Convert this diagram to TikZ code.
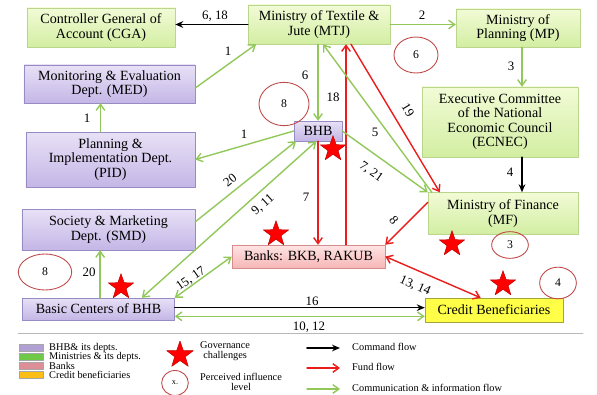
\documentclass[tikz,border=0pt]{standalone}
\usepackage{fontspec}
\setmainfont{Liberation Serif}
\usetikzlibrary{shapes.geometric, arrows.meta}
\definecolor{minfilltop}{RGB}{242,251,214}
\definecolor{minfillbot}{RGB}{210,238,162}
\definecolor{minline}{RGB}{185,214,140}
\definecolor{deptfilltop}{RGB}{232,225,246}
\definecolor{deptfillbot}{RGB}{196,182,230}
\definecolor{deptline}{RGB}{150,140,195}
\definecolor{bankfilltop}{RGB}{255,228,228}
\definecolor{bankfillbot}{RGB}{246,182,182}
\definecolor{bankline}{RGB}{215,140,140}
\definecolor{benfill}{RGB}{255,255,72}
\definecolor{benline}{RGB}{165,165,60}
\definecolor{infogreen}{RGB}{146,200,90}
\definecolor{fundred}{RGB}{235,28,28}
\definecolor{levelred}{RGB}{190,72,72}
\tikzset{>=latex}
\tikzset{every text node part/.style={align=center}}
\tikzset{box/.style={font=\fontsize{12}{12.3}\selectfont, inner sep=1pt}}
\tikzset{ministry/.style={box, draw=minline, top color=minfilltop, bottom color=minfillbot}}
\tikzset{dept/.style={box, draw=deptline, top color=deptfilltop, bottom color=deptfillbot}}
\tikzset{bank/.style={box, draw=bankline, top color=bankfilltop, bottom color=bankfillbot}}
\tikzset{benef/.style={box, draw=benline, fill=benfill}}
\tikzset{cmd/.style={black, line width=1.3pt, -{Stealth[length=2.4mm, width=2mm]}}}
\tikzset{fund/.style={fundred, line width=1.2pt, -{Straight Barb[length=1.8mm, width=2.6mm]}}}
\tikzset{fundboth/.style={fund, {Straight Barb[length=1.8mm, width=2.6mm]}-{Straight Barb[length=1.8mm, width=2.6mm]}}}
\tikzset{info/.style={infogreen, line width=1.2pt, -{Straight Barb[length=1.8mm, width=2.6mm]}}}
\tikzset{infoboth/.style={info, {Straight Barb[length=1.8mm, width=2.6mm]}-{Straight Barb[length=1.8mm, width=2.6mm]}}}
\tikzset{lbl/.style={font=\fontsize{11}{11}\selectfont, inner sep=0pt}}
\tikzset{legtext/.style={font=\fontsize{8.8}{8.8}\selectfont, anchor=west, inner sep=0pt}}
\tikzset{level/.style={ellipse, draw=levelred, line width=0.75pt, font=\fontsize{10}{10}\selectfont, inner sep=0pt}}
\tikzset{gov/.style={star, star points=5, star point ratio=2.5, fill=red, draw=red!75!black, inner sep=0pt, minimum size=0.8cm}}
\tikzset{swatch/.style={minimum width=0.72cm, minimum height=0.21cm, inner sep=0pt, draw=gray!70}}
\newcommand{\levelmark}[5]{%
	\node[level, minimum width=#3, minimum height=#4] (#1) at #2 {#5};
}

\begin{document}
\begin{tikzpicture}[x=0.03cm, y=-0.03cm, line cap=round, line join=round]
	\useasboundingbox (0,0) rectangle (597,394);
	
	% Ministries
	\node[ministry, minimum width=4.44cm, minimum height=1.17cm] (cga) at (101,27.5) {Controller General of\\Account (CGA)};
	\node[ministry, minimum width=4.26cm, minimum height=1.17cm] (mtj) at (319,24.5) {Ministry of Textile \&\\Jute (MTJ)};
	\node[ministry, minimum width=3.72cm, minimum height=1.14cm] (mp) at (518,28) {Ministry of\\Planning (MP)};
	\node[ministry, minimum width=4.68cm, minimum height=2.1cm] (ecnec) at (500,122) {Executive Committee\\of the National\\Economic Council\\(ECNEC)};
	\node[ministry, minimum width=4.5cm, minimum height=1.26cm] (mf) at (503,213.5) {Ministry of Finance\\(MF)};
	
	% BHB and its departments
	\node[dept, minimum width=5.13cm, minimum height=1.14cm] (med) at (109.5,84) {Monitoring \& Evaluation\\Dept. (MED)};
	\node[dept, minimum width=5.07cm, minimum height=1.65cm] (pid) at (110.5,159.5) {Planning \&\\Implementation Dept.\\(PID)};
	\node[dept, minimum width=5.19cm, minimum height=1.23cm] (smd) at (108.5,229.5) {Society \& Marketing\\Dept. (SMD)};
	\node[dept, minimum width=1.44cm, minimum height=0.6cm] (bhb) at (318,131) {BHB};
	\node[dept, minimum width=4.56cm, minimum height=0.66cm] (basic) at (98.5,309) {Basic Centers of BHB};
	
	% Banks and beneficiaries
	\node[bank, minimum width=4.59cm, minimum height=0.69cm] (banks) at (308.5,256.5) {Banks: BKB, RAKUB};
	\node[benef, minimum width=4.14cm, minimum height=0.72cm] (credit) at (494,310) {Credit Beneficiaries};
	
	% Command flow
	\draw[cmd] (mtj.west) -- (mtj.west -| cga.east);
	\draw[cmd] ([xshift=0.66cm]ecnec.south) -- ([xshift=0.66cm]ecnec.south |- mf.north);
	\draw[cmd] ([yshift=0.04cm]basic.east) -- ([yshift=0.04cm]basic.east -| credit.west);
	
	% Fund flow
	\draw[fund] (bhb.south) -- (bhb.south |- banks.north);
	\draw[fund] ([xshift=1.125cm]banks.north) -- ([xshift=1.125cm]banks.north |- mtj.south);
	\draw[fund] ([xshift=0.96cm]mtj.south) -- ([xshift=0.36cm]mf.north west);
	\draw[fund] ([yshift=-0.3cm]mf.north west) -- (banks.north east);
	\draw[fundboth] (banks.east) -- ([xshift=-0.4cm]credit.north);
	
	% Communication & information flow
	\draw[info] (mtj.east) -- (mtj.east -| mp.west);
	\draw[info] ([xshift=0.12cm]mp.south) -- ([xshift=0.12cm]mp.south |- ecnec.north);
	\draw[info] ([yshift=-0.12cm]med.east) -- ([xshift=0.25cm]mtj.south west);
	\draw[info] ([xshift=-0.3cm]pid.north) -- ([xshift=-0.3cm]pid.north |- med.south);
	\draw[info] (bhb.west) -- (pid.east);
	\draw[info] (mtj.south -| bhb.north) -- (bhb.north);
	\draw[info] ([xshift=0.12cm]mf.north west) -- ([xshift=0.12cm]mtj.south);
	\draw[info] (bhb.east) -- (mf.north west);
	\draw[info] ([yshift=0.23cm]smd.east) -- ([xshift=-0.66cm]bhb.south);
	\draw[infoboth] ([xshift=1.3cm]basic.north) -- ([xshift=-0.05cm]bhb.south);
	\draw[info] ([xshift=0.05cm]basic.north) -- ([xshift=0.05cm]basic.north |- smd.south);
	\draw[infoboth] (basic.north east) -- (banks.west);
	\draw[infoboth] ([yshift=-0.22cm]basic.east) -- ([yshift=-0.22cm]basic.east -| credit.west);
	
	% Flow numbers
	\node[lbl] (n618) at (215,16) {6, 18};
	\node[lbl] (n2) at (422,15) {2};
	\node[lbl] (n1a) at (228,51) {1};
	\node[lbl] (n6) at (305,75) {6};
	\node[lbl] (n18) at (333,97) {18};
	\node[lbl] (n3) at (511,66) {3};
	\node[lbl, rotate=-59] (n19) at (408,110) {19};
	\node[lbl] (n5) at (375,132) {5};
	\node[lbl, rotate=-35] (n721) at (371,172) {7, 21};
	\node[lbl] (n4) at (510,172) {4};
	\node[lbl] (n1b) at (87,118) {1};
	\node[lbl] (n1c) at (244,134) {1};
	\node[lbl, rotate=39] (n20a) at (230,180) {20};
	\node[lbl, rotate=42] (n911) at (263,205) {9, 11};
	\node[lbl] (n7) at (306,197) {7};
	\node[lbl, rotate=-50] (n8) at (394,220) {8};
	\node[lbl] (n20b) at (89,272) {20};
	\node[lbl, rotate=35] (n1517) at (191,279) {15, 17};
	\node[lbl, rotate=-24] (n1314) at (415,286) {13, 14};
	\node[lbl] (n16) at (312,301) {16};
	\node[lbl] (n1012) at (309,327) {10, 12};
	
	% Perceived influence levels
	\levelmark{lvbhb}{(284,104)}{1.5cm}{1.3cm}{8}
	\levelmark{lvmtj}{(416,55)}{1.32cm}{1.08cm}{6}
	\levelmark{lvbasic}{(45,272)}{1.6cm}{1.08cm}{8}
	\levelmark{lvmf}{(510,245)}{1.1cm}{0.8cm}{3}
	\levelmark{lvcredit}{(558,283)}{1.1cm}{0.95cm}{4}
	
	% Governance challenges
	\node[gov] (sbhb) at (333,149) {};
	\node[gov] (sbanks) at (276,234) {};
	\node[gov] (sbasic) at (121,287) {};
	\node[gov] (smf) at (452,244) {};
	\node[gov] (scredit) at (503,284) {};
	
	% Legend
	\draw[gray!55, line width=0.8pt] (18,333) -- (583,333);
	\node[swatch, fill={rgb,255:red,176;green,160;blue,212}] (swbhb) at (31,348) {};
	\node[swatch, fill={rgb,255:red,112;green,200;blue,72}] (swmin) at (31,357) {};
	\node[swatch, fill={rgb,255:red,222;green,142;blue,150}] (swbank) at (31,366) {};
	\node[swatch, fill={rgb,255:red,250;green,190;blue,22}] (swben) at (31,375) {};
	\node[legtext] (tbhb) at (49,348) {BHB\& its depts.};
	\node[legtext] (tmin) at (49,357) {Ministries \& its depts.};
	\node[legtext] (tbank) at (49,366) {Banks};
	\node[legtext] (tben) at (49,375) {Credit beneficiaries};
	\node[gov, minimum size=0.84cm] (lgstar) at (180,355) {};
	\node[legtext, align=left] (tgov) at (200,351) {Governance\\challenges};
	\node[level, minimum width=0.8cm, minimum height=0.75cm, font=\fontsize{7}{7}\selectfont] (lglevel) at (175,383) {x.};
	\node[legtext, align=left] (tlevel) at (200,382) {Perceived influence\\level};
	\coordinate (cmdA) at (307,348);
	\coordinate (cmdB) at (340,348);
	\coordinate (fundA) at (307,368);
	\coordinate (fundB) at (340,368);
	\coordinate (infoA) at (307,389);
	\coordinate (infoB) at (340,389);
	\draw[cmd] (cmdA) -- (cmdB);
	\draw[fund] (fundA) -- (fundB);
	\draw[info] (infoA) -- (infoB);
	\node[legtext] (tcmd) at (352,347) {Command flow};
	\node[legtext] (tfund) at (352,367) {Fund flow};
	\node[legtext] (tinfo) at (352,388) {Communication \& information flow};
\end{tikzpicture}
\end{document}
